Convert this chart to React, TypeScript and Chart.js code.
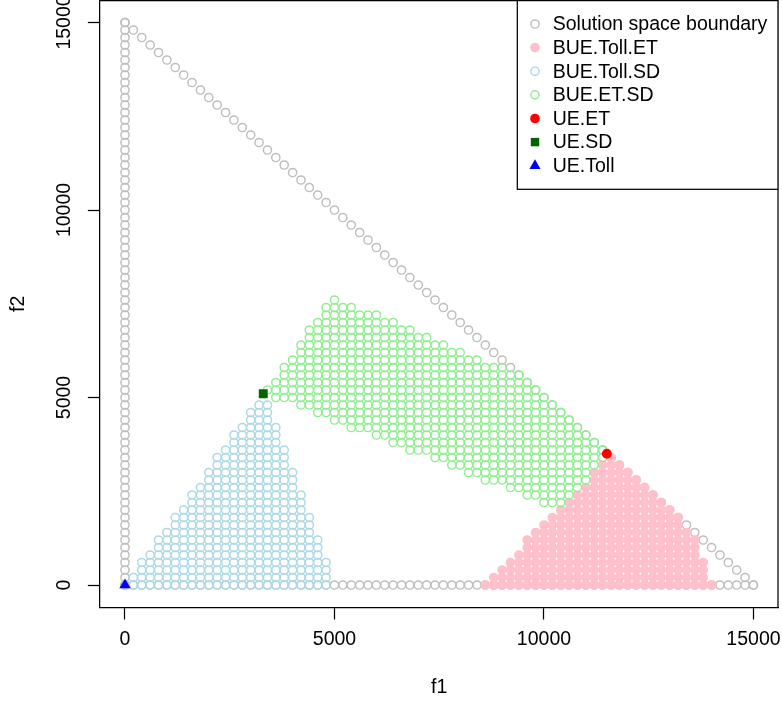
import React, { useEffect, useRef } from "react";
import { Chart, registerables } from "chart.js";

Chart.register(...registerables);

const FONT_FAMILY = "'Liberation Sans', Arial, Helvetica, sans-serif";
const FONT_SIZE = 19.5;
const GRID_STEP = 200;

// axes
const axisMin = -600;
const axisMax = 15600;
const xTickValues = [0, 5000, 10000, 15000];
const yTickValues = [0, 5000, 10000, 15000];
const xTitle = "f1";
const yTitle = "f2";

// Solution space boundary: three edges, points every GRID_STEP
const boundarySegStartF1 = [0, 0, 0];
const boundarySegStartF2 = [0, 0, 15000];
const boundarySegEndF1 = [0, 15000, 15000];
const boundarySegEndF2 = [15000, 0, 0];

// BUE.Toll.ET (pink) rows: f2 value, first f1, last f1
const pinkRowF2 = [0, 200, 400, 600, 800, 1000, 1200, 1400, 1600, 1800, 2000, 2200, 2400, 2600, 2800, 3000, 3200, 3400];
const pinkStartF1 = [8600, 8800, 9000, 9200, 9400, 9600, 9600, 9800, 10000, 10200, 10400, 10600, 10800, 11000, 11200, 11200, 11400, 11600];
const pinkEndF1 = [14000, 13800, 13800, 13800, 13600, 13600, 13600, 13400, 13200, 13200, 13000, 12800, 12600, 12400, 12200, 12000, 11800, 11600];

// BUE.Toll.SD (light blue) rows
const blueRowF2 = [0, 200, 400, 600, 800, 1000, 1200, 1400, 1600, 1800, 2000, 2200, 2400, 2600, 2800, 3000, 3200, 3400, 3600, 3800, 4000, 4200, 4400, 4600, 4800];
const blueStartF1 = [200, 200, 400, 400, 600, 800, 800, 1000, 1200, 1200, 1400, 1600, 1600, 1800, 2000, 2000, 2200, 2200, 2400, 2600, 2600, 2800, 3000, 3000, 3200];
const blueEndF1 = [4800, 4800, 4800, 4800, 4600, 4600, 4600, 4400, 4400, 4400, 4200, 4200, 4200, 4000, 4000, 4000, 3800, 3800, 3800, 3600, 3600, 3600, 3400, 3400, 3400];

// BUE.ET.SD (light green) rows
const greenRowF2 = [2200, 2400, 2600, 2800, 3000, 3200, 3400, 3600, 3800, 4000, 4200, 4400, 4600, 4800, 5000, 5200, 5400, 5600, 5800, 6000, 6200, 6400, 6600, 6800, 7000, 7200, 7400, 7600];
const greenStartF1 = [10000, 9600, 9200, 8600, 8200, 7800, 7400, 6800, 6400, 6000, 5400, 5000, 4600, 4200, 3600, 3400, 3600, 3800, 3800, 4000, 4200, 4200, 4400, 4400, 4600, 4800, 4800, 5000];
const greenEndF1 = [10400, 10600, 10800, 11000, 11000, 11200, 11400, 11400, 11200, 11000, 10800, 10600, 10400, 10200, 10000, 9800, 9600, 9400, 9000, 8400, 8000, 7600, 7200, 6800, 6400, 6000, 5400, 5000];

// single equilibria
const ueET = [11500, 3500];
const ueSD = [3300, 5100];
const ueToll = [0, 0];

const legendLabels = [
  "Solution space boundary",
  "BUE.Toll.ET",
  "BUE.Toll.SD",
  "BUE.ET.SD",
  "UE.ET",
  "UE.SD",
  "UE.Toll",
];
const legendKinds = ["open", "filled", "open", "open", "filled", "square", "triangle"];
const legendColors = ["#BEBEBE", "#FFC0CB", "#ADD8E6", "#90EE90", "#FF0000", "#006400", "#0000FF"];

function rowsToPoints(f2s: number[], starts: number[], ends: number[]) {
  const pts: { x: number; y: number }[] = [];
  for (let i = 0; i < f2s.length; i++) {
    for (let x = starts[i]; x <= ends[i] + 1e-6; x += GRID_STEP) pts.push({ x, y: f2s[i] });
  }
  return pts;
}

function segmentsToPoints(sx: number[], sy: number[], ex: number[], ey: number[]) {
  const pts: { x: number; y: number }[] = [];
  for (let i = 0; i < sx.length; i++) {
    const n = Math.round(Math.max(Math.abs(ex[i] - sx[i]), Math.abs(ey[i] - sy[i])) / GRID_STEP);
    for (let k = 0; k <= n; k++) {
      pts.push({ x: sx[i] + ((ex[i] - sx[i]) * k) / n, y: sy[i] + ((ey[i] - sy[i]) * k) / n });
    }
  }
  return pts;
}

const R_OPEN = 4.1;
const LW = 1.45;
const FRAME_LW = 1.25;

function drawSymbol(ctx: CanvasRenderingContext2D, kind: string, color: string, x: number, y: number) {
  ctx.save();
  ctx.lineWidth = LW;
  ctx.strokeStyle = color;
  ctx.fillStyle = color;
  if (kind === "open") {
    ctx.beginPath();
    ctx.arc(x, y, R_OPEN, 0, Math.PI * 2);
    ctx.stroke();
  } else if (kind === "filled") {
    ctx.beginPath();
    ctx.arc(x, y, R_OPEN, 0, Math.PI * 2);
    ctx.fill();
    ctx.stroke();
  } else if (kind === "square") {
    const h = 4.2;
    ctx.fillRect(x - h, y - h, 2 * h, 2 * h);
  } else if (kind === "triangle") {
    const r = 6.4;
    ctx.beginPath();
    for (let i = 0; i < 3; i++) {
      const a = (i * 2 * Math.PI) / 3;
      const px = x + Math.sin(a) * r;
      const py = y - Math.cos(a) * r;
      if (i === 0) ctx.moveTo(px, py);
      else ctx.lineTo(px, py);
    }
    ctx.closePath();
    ctx.fill();
  }
  ctx.restore();
}

const boxLegendPlugin = {
  id: "rBoxLegend",
  afterDraw(chart: any) {
    const { ctx, chartArea: a } = chart;
    ctx.save();
    ctx.strokeStyle = "#000";
    ctx.lineWidth = FRAME_LW;
    ctx.beginPath();
    ctx.moveTo(a.left, a.top + 0.6);
    ctx.lineTo(a.right, a.top + 0.6);
    ctx.moveTo(a.right - 0.6, a.top);
    ctx.lineTo(a.right - 0.6, a.bottom);
    ctx.stroke();

    const w = 261.3;
    const h = 189.3;
    const lx = a.right - w;
    const ly = a.top;
    ctx.fillStyle = "#fff";
    ctx.fillRect(lx, ly, w, h);
    ctx.strokeRect(lx, ly + 0.6, w - 0.6, h - 0.6);

    ctx.font = `${FONT_SIZE}px ${FONT_FAMILY}`;
    ctx.textBaseline = "middle";
    ctx.textAlign = "left";
    for (let i = 0; i < legendLabels.length; i++) {
      const cy = ly + 24 + i * 23.62;
      drawSymbol(ctx, legendKinds[i], legendColors[i], lx + 17.7, cy);
      ctx.fillStyle = "#000";
      ctx.fillText(legendLabels[i], lx + 35.4, cy + 1);
    }
    ctx.restore();
  },
};

export default function App() {
  const canvasRef = useRef<HTMLCanvasElement | null>(null);

  useEffect(() => {
    document.body.style.margin = "0";
    const canvas = canvasRef.current;
    if (!canvas) return;

    const boundary = segmentsToPoints(boundarySegStartF1, boundarySegStartF2, boundarySegEndF1, boundarySegEndF2);
    const pink = rowsToPoints(pinkRowF2, pinkStartF1, pinkEndF1);
    const blue = rowsToPoints(blueRowF2, blueStartF1, blueEndF1);
    const green = rowsToPoints(greenRowF2, greenStartF1, greenEndF1);

    const open = (color: string) => ({
      pointStyle: "circle",
      pointRadius: R_OPEN,
      borderWidth: LW,
      borderColor: color,
      backgroundColor: "rgba(0,0,0,0)",
    });
    const filled = (color: string, r: number) => ({
      pointStyle: "circle",
      pointRadius: r,
      borderWidth: LW,
      borderColor: color,
      backgroundColor: color,
    });

    const font = { family: FONT_FAMILY, size: FONT_SIZE };

    const chart = new Chart(canvas, {
      type: "scatter",
      data: {
        datasets: [
          { label: legendLabels[0], data: boundary, order: 6, ...open(legendColors[0]) },
          { label: legendLabels[1], data: pink, order: 5, ...filled(legendColors[1], R_OPEN) },
          { label: legendLabels[2], data: blue, order: 4, ...open(legendColors[2]) },
          { label: legendLabels[3], data: green, order: 3, ...open(legendColors[3]) },
          { label: legendLabels[4], data: [{ x: ueET[0], y: ueET[1] }], order: 2, ...filled(legendColors[4], 4.3) },
          {
            label: legendLabels[5],
            data: [{ x: ueSD[0], y: ueSD[1] }],
            order: 1,
            pointStyle: "rect",
            pointRadius: 6.3,
            borderWidth: 0,
            borderColor: legendColors[5],
            backgroundColor: legendColors[5],
          },
          {
            label: legendLabels[6],
            data: [{ x: ueToll[0], y: ueToll[1] }],
            order: 0,
            pointStyle: "triangle",
            pointRadius: 6.6,
            borderWidth: 0,
            borderColor: legendColors[6],
            backgroundColor: legendColors[6],
          },
        ],
      } as any,
      options: {
        responsive: false,
        animation: false,
        devicePixelRatio: 1,
        events: [],
        layout: { autoPadding: false, padding: { left: 0, right: 3.4, top: 0, bottom: 0 } },
        plugins: { legend: { display: false }, tooltip: { enabled: false } },
        scales: {
          x: {
            type: "linear",
            min: axisMin,
            max: axisMax,
            afterBuildTicks: (s: any) => {
              s.ticks = xTickValues.map((v) => ({ value: v }));
            },
            afterFit: (s: any) => {
              s.height = 97.5;
              s.paddingLeft = 0;
              s.paddingRight = 0;
            },
            grid: {
              display: true,
              drawOnChartArea: false,
              drawTicks: true,
              tickLength: 12,
              tickWidth: FRAME_LW,
              tickColor: "#000",
              color: "#000",
            },
            border: { display: true, color: "#000", width: FRAME_LW },
            ticks: {
              font,
              color: "#000",
              padding: 8.8,
              minRotation: 0,
              maxRotation: 0,
              autoSkip: false,
              callback: (v: any) => String(v),
            },
            title: { display: true, text: xTitle, font, color: "#000", padding: { top: 0, bottom: 5.3 } },
          },
          y: {
            type: "linear",
            min: axisMin,
            max: axisMax,
            afterBuildTicks: (s: any) => {
              s.ticks = yTickValues.map((v) => ({ value: v }));
            },
            afterFit: (s: any) => {
              s.width = 99.86;
              s.paddingTop = 0;
              s.paddingBottom = 0;
            },
            grid: {
              display: true,
              drawOnChartArea: false,
              drawTicks: true,
              tickLength: 12,
              tickWidth: FRAME_LW,
              tickColor: "#000",
              color: "#000",
            },
            border: { display: true, color: "#000", width: FRAME_LW },
            ticks: {
              font,
              color: "#000",
              padding: -4,
              minRotation: 90,
              maxRotation: 90,
              crossAlign: "center",
              autoSkip: false,
              callback: (v: any) => String(v),
            },
            title: { display: true, text: yTitle, font, color: "#000", padding: { top: 7.3, bottom: 0 } },
          },
        },
      } as any,
      plugins: [boxLegendPlugin],
    });

    return () => chart.destroy();
  }, []);

  return (
    <div style={{ position: "fixed", left: 0, top: 0, width: 782, height: 705, background: "#fff" }}>
      <canvas ref={canvasRef} width={782} height={705} style={{ width: 782, height: 705, display: "block" }} />
    </div>
  );
}
